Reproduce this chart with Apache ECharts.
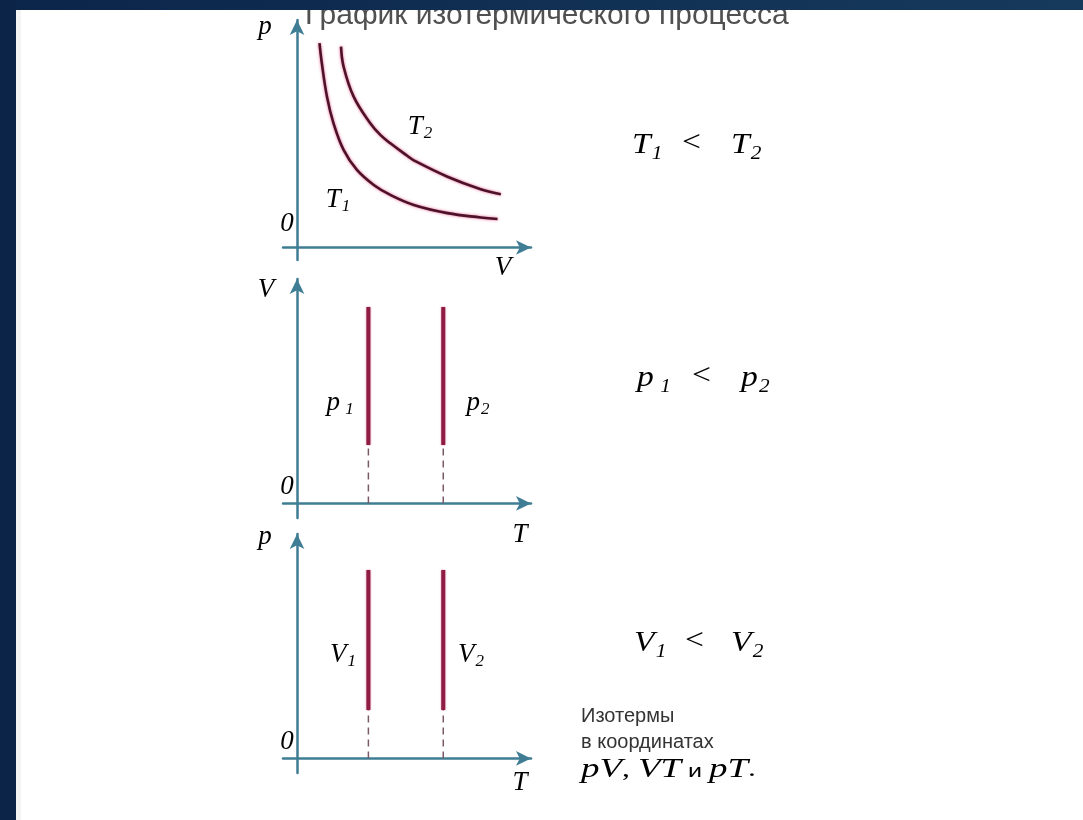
<!DOCTYPE html>
<html>
<head>
<meta charset="utf-8">
<script src="https://cdn.jsdelivr.net/npm/echarts@6/dist/echarts.min.js"></script>
<style>
html,body{margin:0;padding:0;background:#fff;}
#c{width:1083px;height:820px;}
</style>
</head>
<body>
<div id="c"></div>
<script>
// ---- data ----
const titleText = 'График изотермического процесса';
// pV isotherms (V, p)
const isoT1 = [[0.96,8.98],[1.06,8.10],[1.28,6.63],[1.56,5.46],[1.99,4.29],[2.56,3.41],[3.28,2.75],[3.99,2.31],[4.99,1.87],[6.43,1.51],[7.85,1.32],[8.57,1.25]];
const isoT2 = [[1.88,8.83],[1.99,7.95],[2.42,6.63],[3.13,5.46],[3.56,4.95],[3.99,4.58],[4.71,4.03],[4.99,3.83],[6.43,3.11],[7.85,2.56],[8.71,2.34]];
// VT isotherms: T value, V range
const vtT = [3.05, 6.25];
const vtRange = [2.60, 8.75];
// pT isotherms: T value, p range
const ptT = [3.05, 6.25];
const ptRange = [2.16, 8.40];
const noteLines = ['Изотермы', 'в координатах'];

// ---- styles ----
const axisColor = '#3f7d94';
const curveColor = '#4d1229';
const barColor = '#8e1c45';
const dashColor = '#7a5a66';
const serif = '"Liberation Serif", "DejaVu Serif", serif';
const sans = '"Liberation Sans", Arial, sans-serif';
const txtColor = '#2b2b2b';

function mkAxes(gi) {
  return {
    type: 'value', gridIndex: gi,
    axisLine: {show: true, onZero: true, symbol: ['none', 'arrow'], symbolSize: [11, 15],
      lineStyle: {color: axisColor, width: 2.5}},
    axisTick: {show: false}, axisLabel: {show: false}, splitLine: {show: false}
  };
}
const grids = [
  {left: 283, top: 20, width: 248, height: 240},
  {left: 283, top: 279, width: 248, height: 239},
  {left: 283, top: 534, width: 248, height: 239}
];
const xAxes = [0,1,2].map(i => Object.assign({}, mkAxes(i), {min: -0.6, max: 10}));
const yAxes = [0,1,2].map(i => Object.assign({}, mkAxes(i), {min: i === 0 ? -0.55 : -0.65, max: 10}));

const series = [];
[isoT1, isoT2].forEach(d => series.push({
  type: 'line', xAxisIndex: 0, yAxisIndex: 0, data: d, smooth: 0.4, symbol: 'none',
  lineStyle: {color: curveColor, width: 2.6, shadowColor: 'rgba(220,60,110,0.8)', shadowBlur: 3}
}));
function vlines(ts, range, gi) {
  ts.forEach(t => {
    series.push({type: 'line', xAxisIndex: gi, yAxisIndex: gi, symbol: 'none',
      data: [[t, range[0]], [t, range[1]]],
      lineStyle: {color: barColor, width: 4, shadowColor: 'rgba(200,40,90,0.6)', shadowBlur: 2}});
    series.push({type: 'line', xAxisIndex: gi, yAxisIndex: gi, symbol: 'none',
      data: [[t, 0], [t, range[0]]],
      lineStyle: {color: dashColor, width: 1.5, type: [7, 5]}});
  });
}
vlines(vtT, vtRange, 1);
vlines(ptT, ptRange, 2);

const richMath = {
  m: {fontFamily: serif, fontStyle: 'italic', fontSize: 27, color: txtColor},
  s: {fontFamily: serif, fontStyle: 'italic', fontSize: 17, color: txtColor, padding: [14, 0, 0, 1]}
};
function mathText(x, y, main, s) {
  return {type: 'text', x: x, y: y, style: {
    text: s ? '{m|' + main + '}{s|' + s + '}' : '{m|' + main + '}',
    rich: richMath, align: 'center', verticalAlign: 'middle'}};
}
const richRel = {
  m: {fontFamily: serif, fontStyle: 'italic', fontSize: 30, color: txtColor},
  s: {fontFamily: serif, fontStyle: 'italic', fontSize: 19, color: txtColor, padding: [16, 0, 0, 1]},
  g: {fontFamily: serif, fontSize: 30, color: txtColor, padding: [0, 0, 0, 0]}
};
function rel(x, y, txt) {
  return {type: 'text', x: x, y: y, scaleX: 1.12, style: {text: txt, rich: richRel, align: 'left', verticalAlign: 'top'}};
}

const graphics = [
  // title (partly hidden under the top band)
  {type: 'text', x: 305, y: 31, z: 1, style: {text: titleText, font: '30px ' + sans, fill: '#505050', verticalAlign: 'bottom'}},
  // top band and left strip
  {type: 'rect', z: 10, shape: {x: 0, y: 0, width: 1083, height: 10},
    style: {fill: new echarts.graphic.LinearGradient(0, 0, 1, 0, [{offset: 0, color: '#0b2549'}, {offset: 1, color: '#163a5c'}])}},
  {type: 'rect', z: 10, shape: {x: 0, y: 0, width: 16, height: 820}, style: {fill: '#0b2447'}},
  {type: 'rect', z: 9, shape: {x: 16, y: 10, width: 5, height: 810}, style: {fill: '#f4f4f4'}},
  // panel 1 labels
  mathText(265, 27, 'p'), mathText(287, 224, '0'), mathText(503, 268, 'V'),
  mathText(420, 127, 'T', '2'), mathText(338, 200, 'T', '1'),
  // panel 2 labels
  mathText(266, 290, 'V'), mathText(287, 487, '0'), mathText(520, 535, 'T'),
  mathText(340, 403, 'p', ' 1'), mathText(478, 403, 'p', '2'),
  // panel 3 labels
  mathText(265, 537, 'p'), mathText(287, 742, '0'), mathText(520, 783, 'T'),
  mathText(343, 655, 'V', '1'), mathText(471, 655, 'V', '2'),
  // relations
  rel(632, 128, '{m|T}{s|1}'), rel(682, 128, '{g|<}'), rel(731, 128, '{m|T}{s|2}'),
  rel(637, 361, '{m|p}{s| 1}'), rel(692, 361, '{g|<}'), rel(741, 361, '{m|p}{s|2}'),
  rel(634, 626, '{m|V}{s|1}'), rel(685, 626, '{g|<}'), rel(731, 626, '{m|V}{s|2}'),
  // note
  {type: 'text', left: 581, top: 706, style: {text: noteLines[0], font: '20px ' + sans, fill: '#333'}},
  {type: 'text', left: 581, top: 732, style: {text: noteLines[1], font: '20px ' + sans, fill: '#333'}},
  {type: 'text', x: 581, y: 756, scaleX: 1.32, style: {text: '{m|pV}{g|, }{m|VT}{k| и }{m|pT}{g|.}', rich: {
    m: {fontFamily: serif, fontStyle: 'italic', fontSize: 28, color: '#333'},
    g: {fontFamily: serif, fontSize: 24, color: '#333'},
    k: {fontFamily: sans, fontSize: 19, color: '#333', padding: [3, 0, 0, 0]}}}}
];

const chart = echarts.init(document.getElementById('c'), null, {renderer: 'canvas'});
chart.setOption({
  backgroundColor: '#ffffff',
  animation: false,
  grid: grids,
  xAxis: xAxes,
  yAxis: yAxes,
  series: series,
  graphic: graphics
});
</script>
</body>
</html>
